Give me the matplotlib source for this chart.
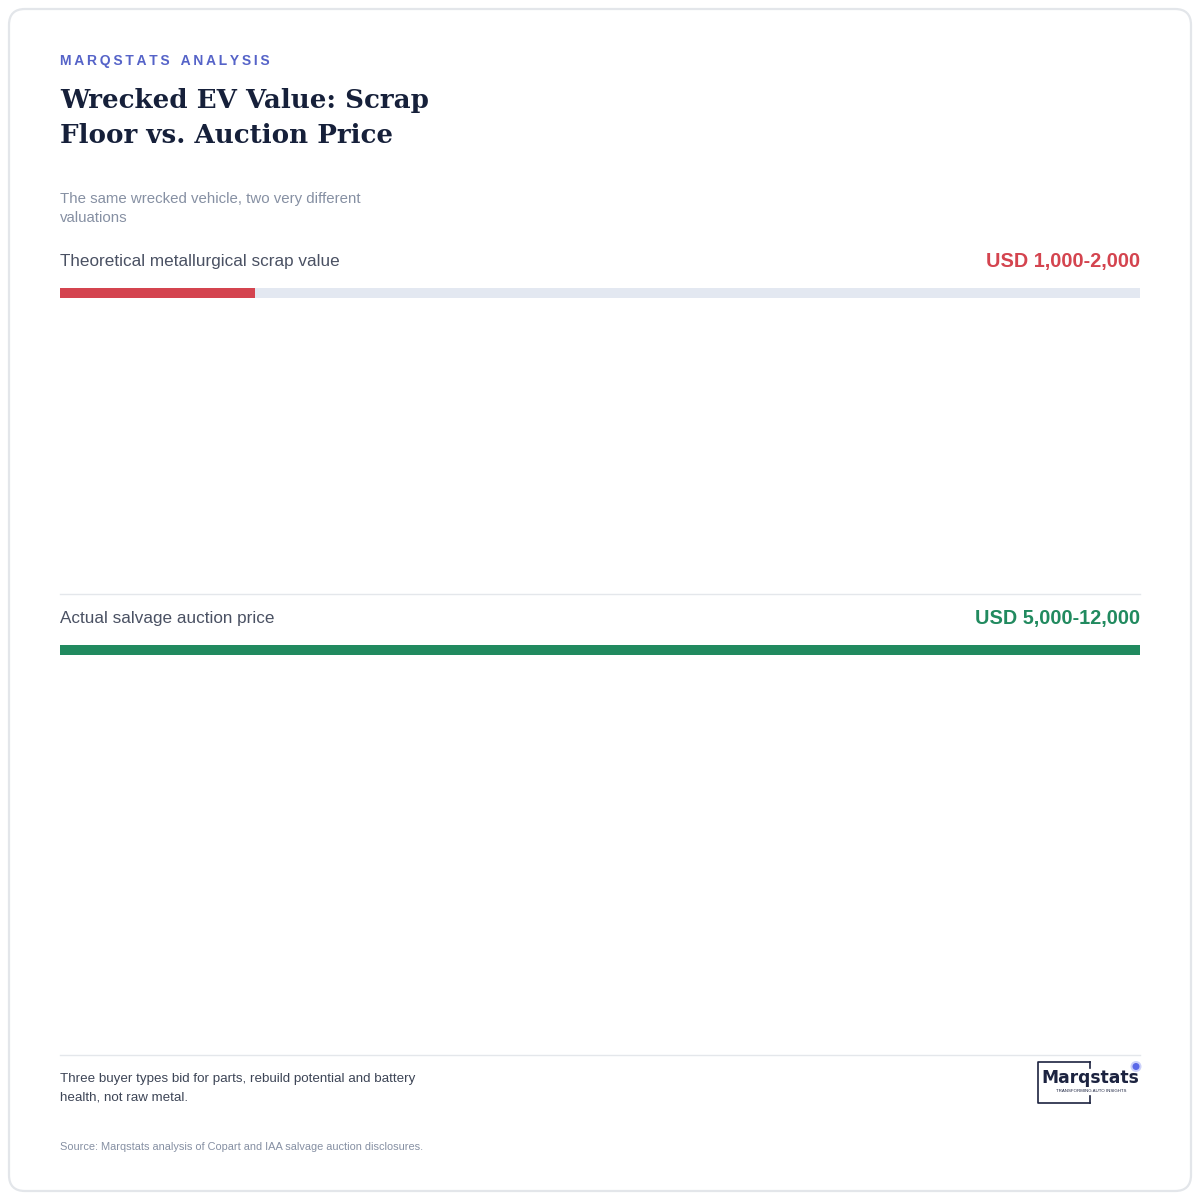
import matplotlib
matplotlib.use("Agg")
import matplotlib.pyplot as plt
from matplotlib.patches import FancyBboxPatch, Circle

# ---- data ----
categories = ["Theoretical metallurgical scrap value", "Actual salvage auction price"]
range_low = [1000, 5000]
range_high = [2000, 12000]
value_labels = ["USD 1,000-2,000", "USD 5,000-12,000"]
scale_max = 11100
colors = ["#d4444f", "#218a5f"]

W, H = 1200, 1200
fig = plt.figure(figsize=(12, 12), dpi=100)
fig.patch.set_facecolor("white")

bg = fig.add_axes([0, 0, 1, 1])
bg.set_xlim(0, W)
bg.set_ylim(H, 0)
bg.axis("off")

# card
card = FancyBboxPatch((9, 9), 1182, 1182, boxstyle="round,pad=0,rounding_size=16",
                      linewidth=1.6, edgecolor="#e3e6ea", facecolor="white")
bg.add_patch(card)

sans = ["Liberation Sans", "DejaVu Sans"]

# kicker with letter spacing
kicker = "MARQSTATS ANALYSIS"
bg.text(60, 65, "\u2009".join(kicker).replace("\u2009 \u2009", "\u2009\u2009\u2009\u2009"),
        fontsize=10, fontweight="bold", color="#5563c8", family=sans, va="baseline", ha="left")

# title
bg.text(60, 108, "Wrecked EV Value: Scrap", fontsize=18.8, fontweight="bold",
        family="DejaVu Serif", color="#16203a", va="baseline", ha="left")
bg.text(60, 143, "Floor vs. Auction Price", fontsize=18.8, fontweight="bold",
        family="DejaVu Serif", color="#16203a", va="baseline", ha="left")

# subtitle
bg.text(60, 203, "The same wrecked vehicle, two very different", fontsize=10.85,
        family=sans, color="#8690a3", va="baseline", ha="left")
bg.text(60, 222, "valuations", fontsize=10.85, family=sans, color="#8690a3",
        va="baseline", ha="left")

label_base = [266, 623]
value_base = [267, 624]
bar_top = [288, 645]
bar_h = 10

for i, cat in enumerate(categories):
    bg.text(60, label_base[i], cat, fontsize=12.3, family=sans, color="#4a5163",
            va="baseline", ha="left")
    bg.text(1140, value_base[i], value_labels[i], fontsize=14.35, fontweight="bold",
            family=sans, color=colors[i], va="baseline", ha="right")
    ax = fig.add_axes([60 / W, 1 - (bar_top[i] + bar_h) / H, 1080 / W, bar_h / H])
    ax.set_xlim(0, scale_max)
    ax.set_ylim(-0.5, 0.5)
    ax.barh([0], [scale_max], height=1.0, color="#e3e8f1", linewidth=0)
    ax.barh([0], [range_high[i]], height=1.0, color=colors[i], linewidth=0)
    ax.axis("off")

# dividers
bg.plot([60, 1140], [593.5, 593.5], color="#e4e7eb", linewidth=1)
bg.plot([60, 1140], [1054.5, 1054.5], color="#e4e7eb", linewidth=1)

# footnote
bg.text(60, 1082, "Three buyer types bid for parts, rebuild potential and battery",
        fontsize=9.65, family=sans, color="#3d4556", va="baseline", ha="left")
bg.text(60, 1100, "health, not raw metal.", fontsize=9.65, family=sans,
        color="#3d4556", va="baseline", ha="left")
bg.text(60, 1150, "Source: Marqstats analysis of Copart and IAA salvage auction disclosures.",
        fontsize=7.9, family=sans, color="#8690a3", va="baseline", ha="left")

# logo
navy = "#1c2340"
bg.plot([1090, 1037.5, 1037.5, 1090], [1061.5, 1061.5, 1102.5, 1102.5], color=navy, linewidth=1.2)
bg.plot([1090, 1090], [1061.5, 1068], color=navy, linewidth=1.2)
bg.plot([1090, 1090], [1096, 1102.5], color=navy, linewidth=1.2)
bg.text(1090, 1078, "Marqstats", fontsize=12.3, fontweight="bold", family=["DejaVu Sans"],
        color=navy, va="center", ha="center")
bg.text(1091, 1090.5, "TRANSFORMING AUTO INSIGHTS", fontsize=3.2, family=sans,
        color=navy, va="center", ha="center")
bg.add_patch(Circle((1136, 1066.5), 5.5, color="#a9b2f7", alpha=0.6, linewidth=0))
bg.add_patch(Circle((1136, 1066.5), 3.5, color="#5a68e8", linewidth=0))

fig.savefig("out.png", dpi=100, facecolor="white")
